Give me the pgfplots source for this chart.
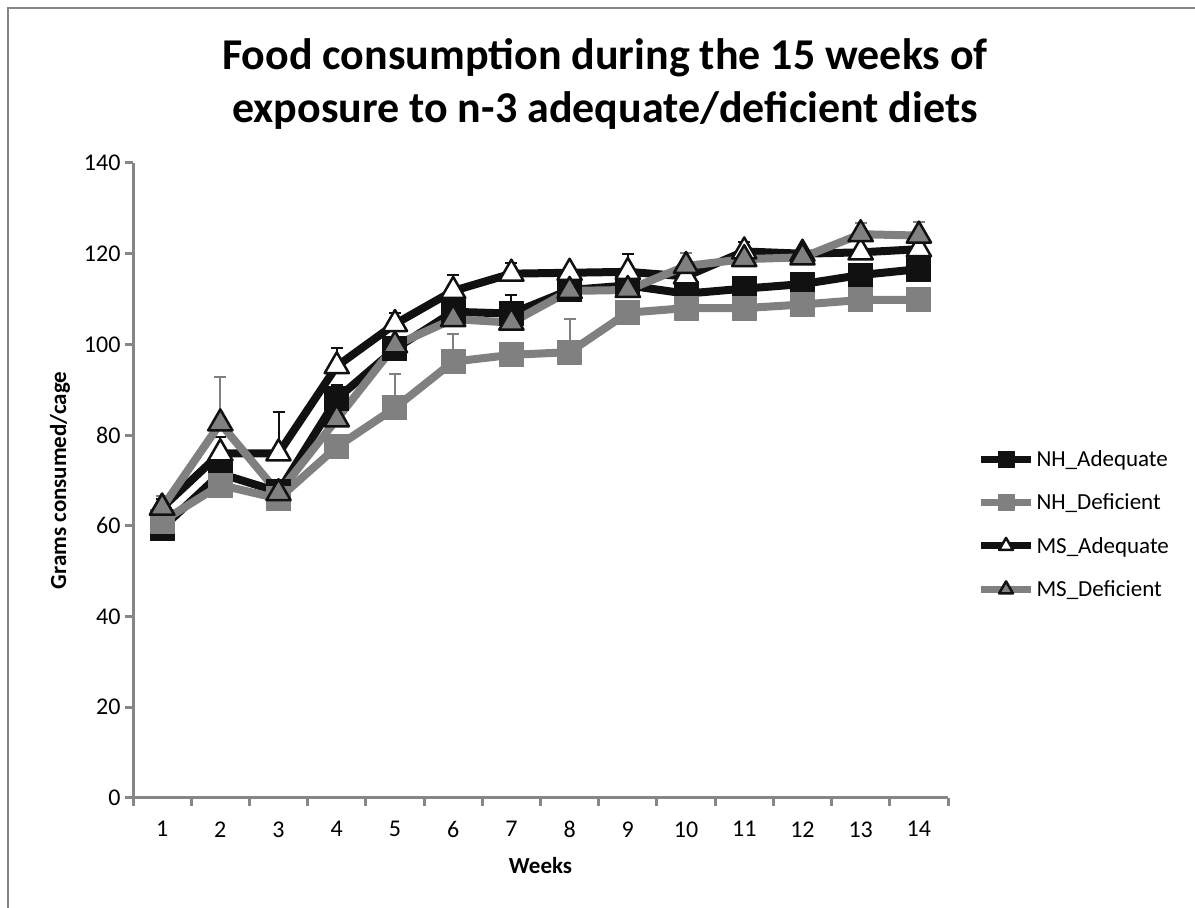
\documentclass[border=0pt]{standalone}
\usepackage{fontspec}
\setmainfont{Carlito}
\usepackage{pgfplots}
\usepackage{pgfplotstable}
\pgfplotsset{compat=1.18}
\definecolor{sergray}{HTML}{808080}
\definecolor{sblack}{HTML}{111111}
\definecolor{axgray}{HTML}{868686}
\pgfplotstableread{
week NHA NHAe NHD NHDe MSA MSAe MSD MSDe
1  59.5 0.8 61.0 0.8 64.0 2.0 64.0 2.5
2  71.5 1.0 69.0 0.8 76.0 3.5 82.6 10.2
3  67.5 2.5 66.0 0.8 76.0 9.0 67.2 1.0
4  88.0 3.0 77.4 0.8 95.2 4.0 83.5 1.0
5  99.0 1.5 86.0 7.5 104.5 2.5 99.8 1.0
6  107.2 1.5 96.2 6.2 111.8 3.5 105.6 1.0
7  106.8 4.0 97.7 1.0 115.6 2.3 104.8 1.0
8  112.0 1.0 98.3 7.2 115.8 1.0 111.8 1.0
9  113.0 1.0 107.0 1.0 116.0 4.0 112.0 1.0
10 111.2 1.0 108.0 1.0 115.0 1.0 117.3 2.8
11 112.3 1.0 108.0 1.0 120.5 2.0 118.8 1.0
12 113.3 1.0 108.8 1.0 120.0 1.0 119.2 1.0
13 115.3 1.0 109.8 1.0 120.3 1.0 124.3 2.5
14 116.6 1.0 109.8 2.5 121.0 1.0 124.0 3.0
}\data
\begin{document}
\begin{tikzpicture}
\path[use as bounding box] (0pt,0pt) rectangle (1195pt,908pt);
\draw[axgray,line width=1.5pt] (8pt,0pt) -- (8pt,900pt) -- (1195pt,900pt);
\node[font=\fontsize{44}{53}\selectfont\bfseries,align=center] at (605pt,824pt)
  {Food consumption during the 15 weeks of\\exposure to n-3 adequate/deficient diets};
\begin{axis}[
  at={(133pt,110pt)}, anchor=south west,
  scale only axis, width=815pt, height=635pt,
  xmin=0.5, xmax=14.5, ymin=0, ymax=140,
  axis lines*=left,
  axis line style={axgray,line width=3pt},
  xtick={1,...,14}, major x tick style={draw=none},
  minor xtick={0.5,1.5,...,14.5},
  minor x tick style={axgray,line width=3pt},
  ytick={0,20,...,140},
  major y tick style={axgray,line width=3pt},
  tick align=outside, major tick length=8pt, minor tick length=8pt,
  tick label style={font=\fontsize{24}{28}\selectfont},
  /pgf/number format/assume math mode=true,
  xticklabel style={yshift=-12pt},
  yticklabel style={xshift=-1pt},
  xlabel={\textbf{Weeks}},
  ylabel={\textbf{Grams consumed/cage}},
  label style={font=\fontsize{23}{27}\selectfont},
  xlabel style={yshift=-12pt},
  ylabel style={yshift=7pt},
  clip=false,
  legend style={at={(1.036,0.551)}, anchor=north west, draw=none, fill=none,
    font=\fontsize{23}{27}\selectfont, row sep=22pt, inner sep=0pt,
    legend cell align=left},
  legend image code/.code={%
    \draw[mark repeat=2,mark phase=2,#1,line width=7pt,mark size=8pt] plot coordinates {(0pt,0pt) (25pt,0pt) (50pt,0pt)};},
  every axis plot/.append style={line width=8pt, line join=round},
  error bars/y dir=plus, error bars/y explicit,
]
\addplot[sblack, mark=square*, mark size=12pt, mark options={fill=sblack,draw=sblack,line width=1pt},
  error bars/error bar style={line width=2pt,sblack},
  error bars/error mark options={line width=2pt,mark size=6pt,sblack,rotate=90}]
  table[x=week,y=NHA,y error=NHAe] {\data};
\addlegendentry{NH\_Adequate}
\addplot[sergray, mark=square*, mark size=12pt, mark options={fill=sergray,draw=sergray,line width=1pt},
  error bars/error bar style={line width=2pt,sergray},
  error bars/error mark options={line width=2pt,mark size=6pt,sergray,rotate=90}]
  table[x=week,y=NHD,y error=NHDe] {\data};
\addlegendentry{NH\_Deficient}
\addplot[sblack, mark=triangle*, mark size=14pt, mark options={fill=white,draw=sblack,line width=2.5pt},
  error bars/error bar style={line width=2pt,sblack},
  error bars/error mark options={line width=2pt,mark size=6pt,sblack,rotate=90}]
  table[x=week,y=MSA,y error=MSAe] {\data};
\addlegendentry{MS\_Adequate}
\addplot[sergray, mark=triangle*, mark size=14pt, mark options={fill=sergray,draw=sblack,line width=2.5pt},
  error bars/error bar style={line width=2pt,sergray},
  error bars/error mark options={line width=2pt,mark size=6pt,sergray,rotate=90}]
  table[x=week,y=MSD,y error=MSDe] {\data};
\addlegendentry{MS\_Deficient}
\end{axis}
\end{tikzpicture}
\end{document}
